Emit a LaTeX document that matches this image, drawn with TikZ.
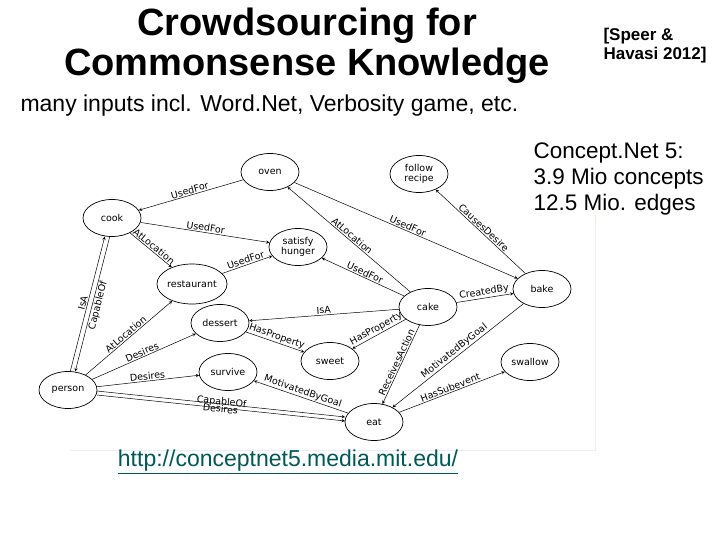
\documentclass[tikz,border=0pt]{standalone}
\usepackage{fontspec}
\setmainfont{Liberation Sans}
\newfontfamily\gfont{DejaVu Sans}
\usetikzlibrary{shapes.geometric}
\begin{document}
\begin{tikzpicture}[x=1pt,y=-1pt,
  cn/.style={draw,ellipse,minimum width=58pt,minimum height=37pt,inner sep=0pt,font=\gfont\fontsize{9.5}{10.5}\selectfont,align=center,line width=0.7pt},
  ed/.style={->,>=stealth,line width=0.5pt},
  lb/.style={midway,sloped,above,inner sep=1pt,font=\gfont\fontsize{9.5}{10}\selectfont},
  lbb/.style={midway,sloped,below,inner sep=1pt,font=\gfont\fontsize{9.5}{10}\selectfont}]
\useasboundingbox (0,0) rectangle (720,540);
\fill[white] (0,0) rectangle (720,540);
\draw[color=blue!8,line width=1pt] (70,450) -- (595,450) -- (595,215);
% titles
\node[font=\bfseries\fontsize{38}{40}\selectfont,align=center] (title) at (307,46) {Crowdsourcing for\\Commonsense Knowledge};
\node[font=\bfseries\fontsize{17}{19}\selectfont,align=left,anchor=west] (ref) at (600,46) {[Speer \&\\Havasi 2012]};
\node[font=\fontsize{23}{25}\selectfont,anchor=west] (inputs) at (17,106) {many inputs incl. Word.Net, Verbosity game, etc.};
\node[font=\fontsize{22.5}{26}\selectfont,align=left,anchor=north west] (cnet) at (530,139) {Concept.Net 5:\\3.9 Mio concepts\\12.5 Mio. edges};
\node[font=\fontsize{23}{25}\selectfont,text=teal!70!black] (url) at (288,462) {\underline{http://conceptnet5.media.mit.edu/}};
% nodes
\node[cn] (oven) at (270,172) {oven};
\node[cn] (follow) at (419,174) {follow\\recipe};
\node[cn] (cook) at (112,218) {cook};
\node[cn] (satisfy) at (298,247) {satisfy\\hunger};
\node[cn,minimum width=60pt,minimum height=40pt] (restaurant) at (192,284) {restaurant};
\node[cn] (bake) at (542,289) {bake};
\node[cn] (cake) at (428,307) {cake};
\node[cn] (dessert) at (220,323) {dessert};
\node[cn] (sweet) at (330,361) {sweet};
\node[cn] (swallow) at (530,362) {swallow};
\node[cn] (survive) at (228,372) {survive};
\node[cn] (person) at (68,390) {person};
\node[cn] (eat) at (374,422) {eat};
% edges
\draw[ed] (oven) -- node[lb]{UsedFor} (cook);
\draw[ed] (cook) -- node[lb]{UsedFor} (satisfy);
\draw[ed] (cook) -- node[lb]{AtLocation} (restaurant);
\draw[ed] (restaurant) -- node[lb]{UsedFor} (satisfy);
\draw[ed,transform canvas={xshift=-2.5pt}] (person) -- node[lb]{IsA} (cook);
\draw[ed,transform canvas={xshift=2.5pt}] (cook) -- node[lb,below]{CapableOf} (person);
\draw[ed] (person) -- node[lb]{AtLocation} (restaurant);
\draw[ed] (person) -- node[lb]{Desires} (dessert);
\draw[ed] (person) -- node[lb]{Desires} (survive);
\draw[ed,transform canvas={yshift=-2pt}] (person) -- node[lb]{CapableOf} (eat);
\draw[ed,transform canvas={yshift=2pt}] (person) -- node[lbb]{Desires} (eat);
\draw[ed] (eat) -- node[lb]{MotivatedByGoal} (survive);
\draw[ed] (dessert) -- node[lb]{HasProperty} (sweet);
\draw[ed] (cake) -- node[lb]{IsA} (dessert);
\draw[ed] (cake) -- node[lb]{HasProperty} (sweet);
\draw[ed] (cake) -- node[lb]{ReceivesAction} (eat);
\draw[ed] (cake) -- node[lb]{AtLocation} (oven);
\draw[ed] (cake) -- node[lb]{UsedFor} (satisfy);
\draw[ed] (oven) -- node[lb]{UsedFor} (bake);
\draw[ed] (bake) -- node[lb]{CausesDesire} (follow);
\draw[ed] (cake) -- node[lb]{CreatedBy} (bake);
\draw[ed] (bake) -- node[lb]{MotivatedByGoal} (eat);
\draw[ed] (eat) -- node[lb]{HasSubevent} (swallow);
\end{tikzpicture}
\end{document}
